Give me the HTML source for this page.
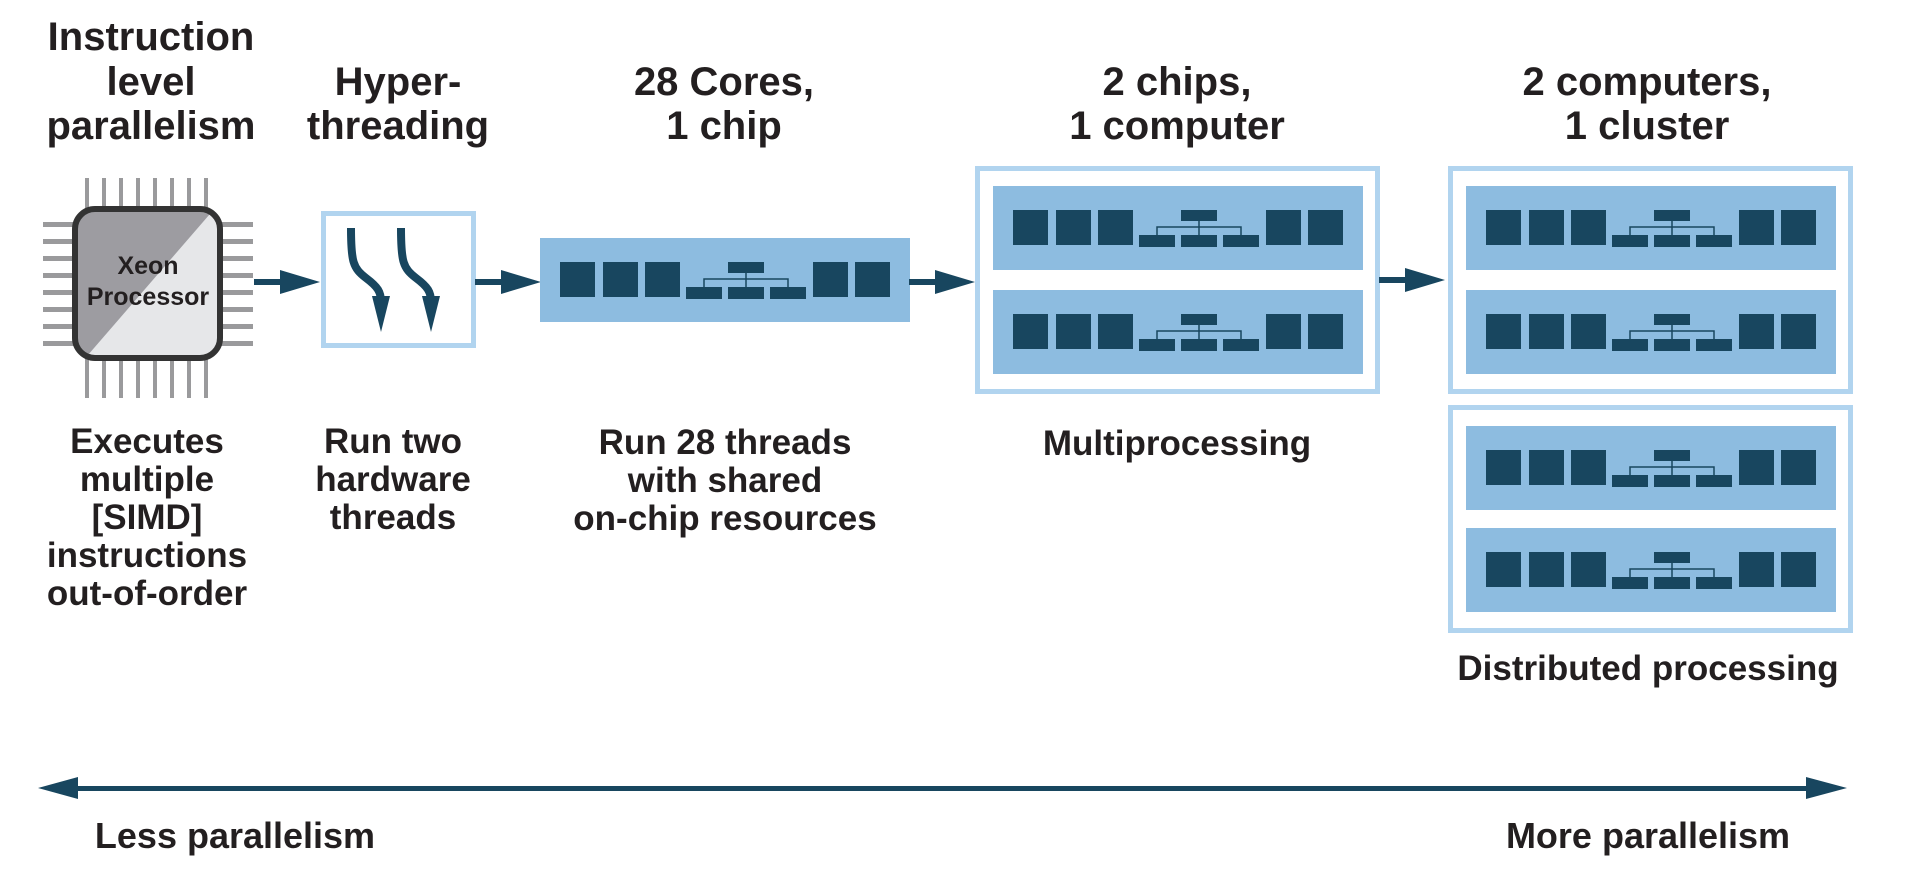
<!DOCTYPE html>
<html><head><meta charset="utf-8"><style>
html,body{margin:0;padding:0;background:#fff;}
svg{display:block;}
text{font-family:"Liberation Sans",sans-serif;font-weight:bold;fill:#231f20;text-anchor:middle;}
</style></head><body>
<svg width="1915" height="889" viewBox="0 0 1915 889" xmlns="http://www.w3.org/2000/svg">
<defs>
<g id="bar">
<rect x="0" y="0" width="370" height="84" fill="#8dbce0"/>
<g fill="#18465f">
<rect x="20" y="24" width="35" height="35"/>
<rect x="63" y="24" width="35" height="35"/>
<rect x="105" y="24" width="35" height="35"/>
<rect x="188" y="24" width="36" height="11"/>
<rect x="146" y="49" width="36" height="12"/>
<rect x="188" y="49" width="36" height="12"/>
<rect x="230" y="49" width="36" height="12"/>
<rect x="273" y="24" width="35" height="35"/>
<rect x="315" y="24" width="35" height="35"/>
</g>
<path d="M164 49 V41 H248 V49 M206 35 V49" fill="none" stroke="#18465f" stroke-width="1.5"/>
</g>
<g id="harrow">
<rect x="0" y="-3" width="30" height="6" fill="#18465f"/>
<polygon points="26,-12 66,0 26,12" fill="#18465f"/>
</g>
</defs>

<!-- Headings -->
<text x="151" y="50" font-size="40">Instruction</text>
<text x="151" y="95" font-size="40">level</text>
<text x="151" y="139" font-size="40">parallelism</text>
<text x="398" y="95" font-size="40">Hyper-</text>
<text x="398" y="139" font-size="40">threading</text>
<text x="724" y="95" font-size="40">28 Cores,</text>
<text x="724" y="139" font-size="40">1 chip</text>
<text x="1177" y="95" font-size="40">2 chips,</text>
<text x="1177" y="139" font-size="40">1 computer</text>
<text x="1647" y="95" font-size="40">2 computers,</text>
<text x="1647" y="139" font-size="40">1 cluster</text>

<!-- Chip pins -->
<g fill="#9a9a9c">
<rect x="85" y="178" width="4" height="220"/>
<rect x="102" y="178" width="4" height="220"/>
<rect x="119" y="178" width="4" height="220"/>
<rect x="136" y="178" width="4" height="220"/>
<rect x="153" y="178" width="4" height="220"/>
<rect x="170" y="178" width="4" height="220"/>
<rect x="187" y="178" width="4" height="220"/>
<rect x="204" y="178" width="4" height="220"/>
<rect x="43" y="222" width="210" height="5"/>
<rect x="43" y="239" width="210" height="5"/>
<rect x="43" y="256" width="210" height="5"/>
<rect x="43" y="273" width="210" height="5"/>
<rect x="43" y="290" width="210" height="5"/>
<rect x="43" y="307" width="210" height="5"/>
<rect x="43" y="324" width="210" height="5"/>
<rect x="43" y="341" width="210" height="5"/>
</g>
<clipPath id="cc"><rect x="75" y="209" width="145" height="149" rx="20"/></clipPath>
<g clip-path="url(#cc)">
<rect x="70" y="200" width="160" height="170" fill="#e6e7e9"/>
<polygon points="70,200 222,200 75,370 70,370" fill="#9d9ca1"/>
</g>
<rect x="75" y="209" width="145" height="149" rx="20" fill="none" stroke="#333" stroke-width="6"/>
<text x="148" y="274" font-size="25">Xeon</text>
<text x="148" y="305" font-size="25">Processor</text>

<use href="#harrow" x="254" y="282"/>

<!-- Hyperthreading box -->
<rect x="323.5" y="213.5" width="150" height="132" fill="#fff" stroke="#b1d4ef" stroke-width="5"/>
<path d="M351 228 C351 262 353 268 366 278 C378 287 381 292 381 302" fill="none" stroke="#18465f" stroke-width="8"/>
<polygon points="372,296 390,296 381,332" fill="#18465f"/>
<path d="M401 228 C401 262 403 268 416 278 C428 287 431 292 431 302" fill="none" stroke="#18465f" stroke-width="8"/>
<polygon points="422,296 440,296 431,332" fill="#18465f"/>

<use href="#harrow" x="475" y="282"/>

<use href="#bar" x="540" y="238"/>

<use href="#harrow" x="909" y="282"/>

<!-- Multiprocessing box -->
<rect x="977.5" y="168.5" width="400" height="223" fill="#fff" stroke="#b1d4ef" stroke-width="5"/>
<use href="#bar" x="993" y="186"/>
<use href="#bar" x="993" y="290"/>

<use href="#harrow" x="1379" y="280"/>

<!-- Cluster boxes -->
<rect x="1450.5" y="168.5" width="400" height="223" fill="#fff" stroke="#b1d4ef" stroke-width="5"/>
<use href="#bar" x="1466" y="186"/>
<use href="#bar" x="1466" y="290"/>
<rect x="1450.5" y="407.5" width="400" height="223" fill="#fff" stroke="#b1d4ef" stroke-width="5"/>
<use href="#bar" x="1466" y="426"/>
<use href="#bar" x="1466" y="528"/>

<!-- Bottom labels -->
<text x="147" y="453" font-size="35">Executes</text>
<text x="147" y="491" font-size="35">multiple</text>
<text x="147" y="529" font-size="35">[SIMD]</text>
<text x="147" y="567" font-size="35">instructions</text>
<text x="147" y="605" font-size="35">out-of-order</text>
<text x="393" y="453" font-size="35">Run two</text>
<text x="393" y="491" font-size="35">hardware</text>
<text x="393" y="529" font-size="35">threads</text>
<text x="725" y="454" font-size="35">Run 28 threads</text>
<text x="725" y="492" font-size="35">with shared</text>
<text x="725" y="530" font-size="35">on-chip resources</text>
<text x="1177" y="455" font-size="35">Multiprocessing</text>
<text x="1648" y="680" font-size="35">Distributed processing</text>

<!-- Bottom double arrow -->
<rect x="70" y="786" width="1745" height="5" fill="#18465f"/>
<polygon points="38,788 78,777 78,799" fill="#18465f"/>
<polygon points="1847,788 1806,777 1806,799" fill="#18465f"/>
<text x="235" y="848" font-size="36">Less parallelism</text>
<text x="1648" y="848" font-size="36">More parallelism</text>
</svg>
</body></html>
